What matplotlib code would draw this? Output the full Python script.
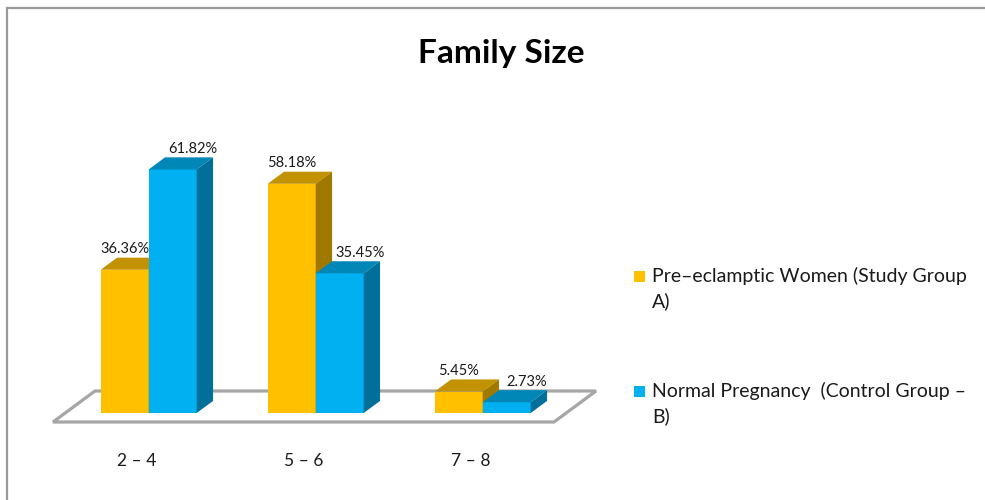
import numpy as np
import matplotlib.pyplot as plt
from matplotlib.patches import Polygon, Rectangle

plt.rcParams['font.family'] = ['Lato', 'DejaVu Sans']

categories = ['2 – 4', '5 – 6', '7 – 8']
study_pct = [36.36, 58.18, 5.45]
control_pct = [61.82, 35.45, 2.73]
series_names = ['Pre–eclamptic Women (Study Group\nA)',
                'Normal Pregnancy  (Control Group –\nB)']

# front, top, side shades for each series
shades = [('#FFC000', '#C29200', '#A27900'),
          ('#00B0F0', '#0087B8', '#00709A')]

W, H = 985, 500
fig = plt.figure(figsize=(W / 100, H / 100), dpi=100)
ax = fig.add_axes([0, 0, 1, 1])
ax.axis('off')

# pixel layout of the plot floor: category units along x, percent along y
x0_px, x1_px, base_px = 53, 554, 422
px_per_cat = (x1_px - x0_px) / len(categories)
px_per_pct = 3.94
ax.set_xlim(-0.5 - x0_px / px_per_cat, -0.5 + (W - x0_px) / px_per_cat)
ax.set_ylim(-(H - base_px) / px_per_pct, base_px / px_per_pct)

# oblique depth direction (one full floor depth)
DX = 42 / px_per_cat
DY = 31 / px_per_pct
z_front, z_back = 0.29, 0.68
bar_w = 48 / px_per_cat
label_shift = [0.0, 0.12]


def proj(x, y, z):
    return (x + z * DX, y + z * DY)


# floor
n = len(categories)
floor = [proj(-0.5, 0, 0), proj(n - 0.5, 0, 0), proj(n - 0.5, 0, 1), proj(-0.5, 0, 1)]
ax.add_patch(Polygon(floor, closed=True, facecolor='white', edgecolor='#A6A6A6', lw=2.3, zorder=1))

x = np.arange(n)
for s, vals in enumerate([study_pct, control_pct]):
    front, top, side = shades[s]
    left = x - bar_w + s * bar_w
    fx, fy = proj(left, 0, z_front)
    ax.bar(fx, vals, width=bar_w, bottom=fy, align='edge', color=front, lw=0, zorder=2 + s)
    for xl, v in zip(left, vals):
        xr = xl + bar_w
        ax.add_patch(Polygon([proj(xl, v, z_front), proj(xr, v, z_front),
                              proj(xr, v, z_back), proj(xl, v, z_back)],
                             facecolor=top, lw=0, zorder=2 + s))
        ax.add_patch(Polygon([proj(xr, 0, z_front), proj(xr, v, z_front),
                              proj(xr, v, z_back), proj(xr, 0, z_back)],
                             facecolor=side, lw=0, zorder=2 + s))
        lx = proj(xl + bar_w / 2 + label_shift[s], v, z_front)[0]
        ly = proj(xl, v, z_back)[1]
        ax.text(lx, ly + 1.1, f'{v:.2f}%', ha='center', va='baseline',
                fontsize=10.5, color='#1a1a1a', zorder=5)

# category labels under the floor
for i, c in enumerate(categories):
    ax.text(i, -39 / px_per_pct, c, ha='center', va='center', fontsize=12.5, color='#1a1a1a')

fig.text(501 / W, 1 - 54 / H, 'Family Size', ha='center', va='center',
         fontsize=24, fontweight='bold', color='black')

# legend, one square per series with the name wrapped over two lines
for s, (name, y_px) in enumerate(zip(series_names, [282, 397])):
    fig.add_artist(Rectangle((634 / W, 1 - y_px / H), 11 / W, 11 / H,
                             transform=fig.transFigure, facecolor=shades[s][0], lw=0))
    for k, line in enumerate(name.split('\n')):
        fig.text(652 / W, 1 - (y_px + 25 * k) / H, line, ha='left', va='baseline',
                 fontsize=14, color='#1a1a1a')

# outer chart frame, cut off at right and bottom
fig.add_artist(Rectangle((7 / W, -0.1), 1.2, 1.1 - 8 / H, transform=fig.transFigure,
                         fill=False, edgecolor='#999999', lw=1.6))

fig.savefig('out.png', dpi=100)
